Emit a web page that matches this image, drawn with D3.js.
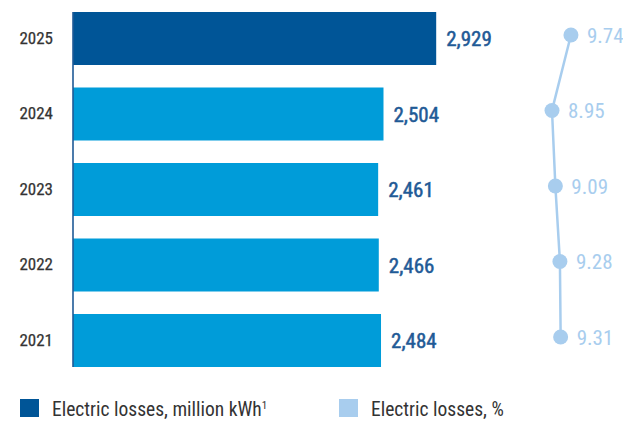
<!DOCTYPE html>
<html>
<head>
<meta charset="utf-8">
<script src="https://cdn.jsdelivr.net/npm/d3@7"></script>
<style>
  body { margin: 0; background: #fff; }
  svg { display: block; font-family: "Roboto Condensed", Roboto, sans-serif; }
</style>
</head>
<body>
<svg id="chart" width="623" height="422"></svg>
<script>
// Electric losses by year
const years = ["2025", "2024", "2023", "2022", "2021"];
const lossesMkWh = [2929, 2504, 2461, 2466, 2484];
const lossesPct = [9.74, 8.95, 9.09, 9.28, 9.31];
const legendLabels = ["Electric losses, million kWh", "Electric losses, %"];

const colors = {
  highlight: "#005597",
  bar: "#009cd9",
  pct: "#a8cdee",
  value: "#1f5a96",
  text: "#333333"
};

const rows = years.map((y, i) => ({ year: y, mkwh: lossesMkWh[i], pct: lossesPct[i] }));

const svg = d3.select("#chart");

const y = d3.scaleBand().domain(years).range([12, 367]).paddingInner(0.298).paddingOuter(0);
const x = d3.scaleLinear().domain([0, 3000]).range([73, 445]);
const xp = d3.scaleLinear().domain([8, 10]).range([529.2, 577.2]);

// Bars
svg.append("g").selectAll("rect").data(rows).join("rect")
  .attr("x", x(0))
  .attr("y", d => y(d.year))
  .attr("width", d => x(d.mkwh) - x(0))
  .attr("height", y.bandwidth())
  .attr("fill", (d, i) => i === 0 ? colors.highlight : colors.bar);

// Category axis
const yAxis = svg.append("g")
  .attr("transform", `translate(${x(0)},0)`)
  .call(d3.axisLeft(y).tickSize(0).tickPadding(20));
yAxis.select(".domain").attr("stroke", colors.value).attr("stroke-width", 1.6)
  .attr("d", `M0,${y.range()[0]}V${y.range()[1]}`);
yAxis.selectAll("text")
  .attr("font-family", "'Roboto Condensed', Roboto, sans-serif")
  .attr("font-size", 17)
  .attr("font-weight", 400)
  .attr("fill", colors.text)
  .attr("stroke", colors.text)
  .attr("stroke-width", 0.25);

// Value labels (regular face with a hairline stroke for a medium weight)
svg.append("g").selectAll("text").data(rows).join("text")
  .attr("x", d => x(d.mkwh) + 10)
  .attr("y", d => y(d.year) + y.bandwidth() / 2)
  .attr("dy", "0.36em")
  .attr("font-size", 21)
  .attr("font-weight", 400)
  .attr("fill", colors.value)
  .attr("stroke", colors.value)
  .attr("stroke-width", 0.5)
  .text(d => d3.format(",")(d.mkwh));

// Percentage line
const cy = d => y(d.year) + y.bandwidth() / 2 - 3.5;
svg.append("path")
  .datum(rows)
  .attr("fill", "none")
  .attr("stroke", colors.pct)
  .attr("stroke-width", 2.5)
  .attr("d", d3.line().x(d => xp(d.pct)).y(cy));

svg.append("g").selectAll("circle").data(rows).join("circle")
  .attr("cx", d => xp(d.pct))
  .attr("cy", cy)
  .attr("r", 7.5)
  .attr("fill", colors.pct);

svg.append("g").selectAll("text").data(rows).join("text")
  .attr("x", d => xp(d.pct) + 16)
  .attr("y", cy)
  .attr("dy", "0.36em")
  .attr("font-size", 21)
  .attr("fill", colors.pct)
  .text(d => d3.format(".2f")(d.pct));

// Legend
const legend = svg.append("g");
const items = [
  { label: legendLabels[0], color: colors.highlight, x: 20, sup: "1" },
  { label: legendLabels[1], color: colors.pct, x: 339, sup: null }
];
items.forEach(it => {
  legend.append("rect").attr("x", it.x).attr("y", 399).attr("width", 19).attr("height", 18).attr("fill", it.color);
  const t = legend.append("text")
    .attr("x", it.x + 32)
    .attr("y", 416)
    .attr("font-size", 19.5)
    .attr("fill", colors.text)
    .text(it.label);
  if (it.sup) {
    t.append("tspan").attr("dy", -7).attr("font-size", 11).text(it.sup);
  }
});
</script>
</body>
</html>
